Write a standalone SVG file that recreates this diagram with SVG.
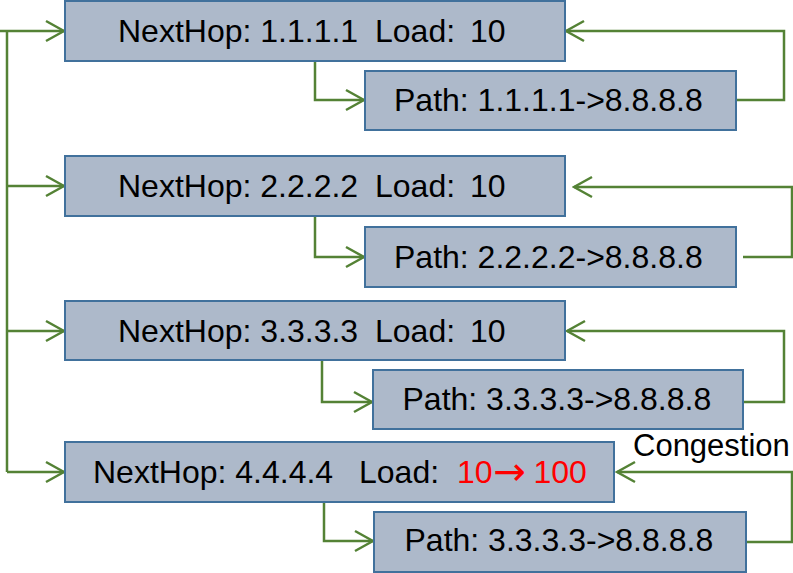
<svg xmlns="http://www.w3.org/2000/svg" width="793" height="573" viewBox="0 0 793 573">
  <style>
    .box { fill: #ADB9CA; stroke: #41719C; stroke-width: 2; }
    .lbl { font-family: "Liberation Sans", Arial, sans-serif; font-size: 32px; fill: #000000; }
    .note { font-family: "Liberation Sans", Arial, sans-serif; font-size: 31px; fill: #000000; }
    .hot { fill: #FF0000; }
    .sym { font-family: "Noto Sans", "DejaVu Sans", sans-serif; font-size: 39px; fill: #FF0000; }
    .wire { fill: none; stroke: #548235; stroke-width: 2.5; marker-end: url(#open); }
    .trunk { fill: none; stroke: #548235; stroke-width: 2.5; }
  </style>
  <defs>
    <marker id="open" markerUnits="userSpaceOnUse" viewBox="-1 -1 22 24" refX="19" refY="11" markerWidth="22" markerHeight="24" orient="auto">
      <path d="M1,1 L19,11 L1,21" fill="none" stroke="#548235" stroke-width="2.5"/>
    </marker>
  </defs>

  <rect width="793" height="573" fill="#FFFFFF"/>

  <!-- connectors -->
  <g id="connectors">
    <!-- shared feed on the left -->
    <path class="trunk" d="M7,31 V472"/>
    <path class="wire" d="M0,31 H64"/>
    <path class="wire" d="M7,186 H64"/>
    <path class="wire" d="M7,331 H64"/>
    <path class="wire" d="M7,472 H64"/>
    <!-- next hop to path -->
    <path class="wire" d="M315,61 V100 H364"/>
    <path class="wire" d="M315,217 V257 H364"/>
    <path class="wire" d="M322,360 V402 H372"/>
    <path class="wire" d="M324,502 V541 H373"/>
    <!-- path feedback to next hop -->
    <path class="wire" d="M736,100 H784 V31 H566"/>
    <path class="wire" d="M743,257 H792 V187 H574"/>
    <path class="wire" d="M736,402 H784 V331 H567"/>
    <path class="wire" d="M746,542 H792 V472 H617"/>
  </g>

  <g id="nexthop1">
    <rect class="box" x="65" y="1" width="500" height="60"/>
    <text class="lbl" y="42"><tspan x="118">NextHop: 1.1.1.1</tspan><tspan x="375">Load:</tspan><tspan x="470">10</tspan></text>
  </g>
  <g id="path1">
    <rect class="box" x="365" y="71" width="371" height="59"/>
    <text class="lbl" x="394" y="111">Path: 1.1.1.1-&gt;8.8.8.8</text>
  </g>

  <g id="nexthop2">
    <rect class="box" x="65" y="156" width="500" height="60"/>
    <text class="lbl" y="197"><tspan x="118">NextHop: 2.2.2.2</tspan><tspan x="375">Load:</tspan><tspan x="470">10</tspan></text>
  </g>
  <g id="path2">
    <rect class="box" x="365" y="227" width="371" height="60"/>
    <text class="lbl" x="394" y="268">Path: 2.2.2.2-&gt;8.8.8.8</text>
  </g>

  <g id="nexthop3">
    <rect class="box" x="65" y="301" width="500" height="59"/>
    <text class="lbl" y="342"><tspan x="118">NextHop: 3.3.3.3</tspan><tspan x="375">Load:</tspan><tspan x="470">10</tspan></text>
  </g>
  <g id="path3">
    <rect class="box" x="373" y="370" width="370" height="59"/>
    <text class="lbl" x="402.5" y="410">Path: 3.3.3.3-&gt;8.8.8.8</text>
  </g>

  <g id="nexthop4">
    <rect class="box" x="65" y="442" width="549" height="60"/>
    <text class="lbl" y="483"><tspan x="93">NextHop: 4.4.4.4</tspan><tspan x="359">Load:</tspan><tspan class="hot" x="457">10</tspan><tspan class="hot" x="533.5">100</tspan></text>
    <text class="sym" x="493" y="485">→</text>
  </g>
  <g id="path4">
    <rect class="box" x="374" y="512" width="372" height="60"/>
    <text class="lbl" x="404.5" y="551">Path: 3.3.3.3-&gt;8.8.8.8</text>
  </g>

  <text class="note" x="633" y="456">Congestion</text>
</svg>
